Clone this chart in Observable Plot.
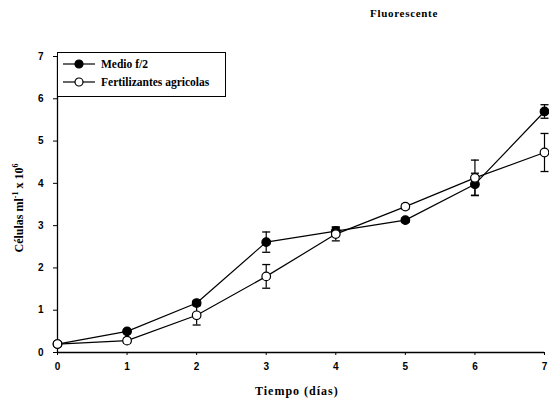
<!DOCTYPE html>
<html><head><meta charset="utf-8">
<script src="https://cdn.jsdelivr.net/npm/d3@7"></script>
<script src="https://cdn.jsdelivr.net/npm/@observablehq/plot@0.6"></script>
<style>
body{margin:0;background:#fff;}
#wrap{position:relative;width:549px;height:402px;}
#title{position:absolute;left:370px;top:7px;font:bold 11px "Liberation Serif",serif;letter-spacing:0.7px;}
#legend{position:absolute;left:57px;top:52px;width:169px;height:45px;border:1px solid #000;box-sizing:border-box;background:#fff;font:bold 11.5px "Liberation Serif",serif;}
.li{position:absolute;left:5px;height:14px;display:flex;align-items:center;}
.li svg{margin-right:6px;}
#ylab{position:absolute;left:19px;top:208px;transform:translate(-50%,-50%) rotate(-90deg);white-space:nowrap;font:bold 12px "Liberation Serif",serif;}
#xlab{position:absolute;left:255px;top:384px;font:bold 12px "Liberation Serif",serif;letter-spacing:1px;}
</style></head>
<body><div id="wrap">
<div id="plot"></div>
<div id="title">Fluorescente</div>
<div id="ylab">Células ml<sup style="font-size:8px">-1</sup> x 10<sup style="font-size:8px">6</sup></div>
<div id="xlab">Tiempo (días)</div>
<div id="legend"></div>
</div>
<script>
const days = [0, 1, 2, 3, 4, 5, 6, 7];
const medio = [0.2, 0.5, 1.17, 2.61, 2.87, 3.13, 3.98, 5.7];
const medioErr = [0, 0.04, 0.06, 0.24, 0.1, 0.05, 0.26, 0.16];
const fert = [0.2, 0.28, 0.88, 1.8, 2.8, 3.45, 4.13, 4.73];
const fertErr = [0, 0.06, 0.23, 0.28, 0.16, 0.06, 0.42, 0.45];
const seriesNames = ["Medio f/2", "Fertilizantes agricolas"];
const yTicks = [0, 1, 2, 3, 4, 5, 6, 7];
const xTicks = [0, 1, 2, 3, 4, 5, 6, 7];

const rows = [];
days.forEach((d, i) => {
  rows.push({day: d, v: medio[i], e: medioErr[i], s: seriesNames[0]});
  rows.push({day: d, v: fert[i], e: fertErr[i], s: seriesNames[1]});
});
const capSym = {draw(ctx, size) { const r = 4; ctx.moveTo(-r, 0); ctx.lineTo(r, 0); }};
const caps = rows.filter(r => r.e > 0).flatMap(r => [{day: r.day, y: r.v - r.e}, {day: r.day, y: r.v + r.e}]);

const chart = Plot.plot({
  width: 549, height: 402,
  marginLeft: 57, marginRight: 5, marginTop: 56, marginBottom: 50,
  x: {domain: [0, 7], label: null},
  y: {domain: [0, 7], label: null},
  style: {fontFamily: "Liberation Sans, Arial, sans-serif", fontSize: "10px", fontWeight: "bold", color: "#000"},
  marks: [
    Plot.ruleX([0], {stroke: "#000", strokeWidth: 1.3}),
    Plot.ruleY([0], {stroke: "#000", strokeWidth: 1.3}),
    Plot.axisX({ticks: xTicks, tickSize: 3, tickPadding: 7, tickFormat: d3.format("d"), label: null}),
    Plot.axisY({ticks: yTicks, tickSize: 4, tickPadding: 10, tickFormat: d3.format("d"), label: null}),
    Plot.ruleX(rows.filter(r => r.e > 0), {x: "day", y1: d => d.v - d.e, y2: d => d.v + d.e, stroke: "#000", strokeWidth: 1.2}),
    Plot.dot(caps, {x: "day", y: "y", symbol: capSym, r: 4, stroke: "#000", strokeWidth: 1.3, fill: "none"}),
    Plot.line(rows, {x: "day", y: "v", z: "s", stroke: "#000", strokeWidth: 1.2}),
    Plot.dot(rows, {x: "day", y: "v", r: 4.3, stroke: "#000", strokeWidth: 1.2,
      fill: d => d.s === seriesNames[0] ? "#000" : "#fff"})
  ]
});
document.getElementById("plot").appendChild(chart);

const leg = document.getElementById("legend");
seriesNames.forEach((n, i) => {
  const item = document.createElement("div");
  item.className = "li";
  item.style.top = (4 + i * 18) + "px";
  const fill = i === 0 ? "#000" : "#fff";
  item.innerHTML = `<svg width="32" height="12"><line x1="0" y1="6" x2="32" y2="6" stroke="#000" stroke-width="1.2"/><circle cx="16" cy="6" r="4" fill="${fill}" stroke="#000" stroke-width="1.2"/></svg><span>${n}</span>`;
  leg.appendChild(item);
});
</script>
</body></html>
